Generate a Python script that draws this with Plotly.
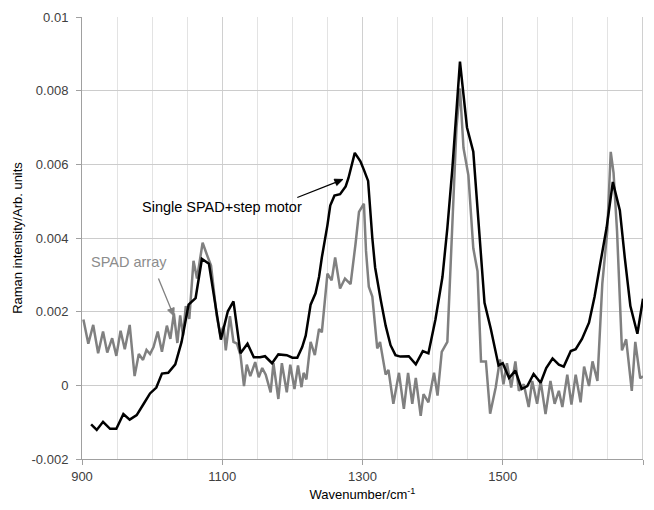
import math
import plotly.graph_objects as go

# SPAD array (gray) spectrum
gray_x = [902, 909, 916, 923, 930, 936, 943, 949, 955, 961, 968, 975, 981, 987, 992, 997,
          1002, 1008, 1014, 1021, 1026, 1031, 1036, 1040, 1044, 1048, 1053, 1059, 1064, 1072,
          1079, 1084, 1092, 1097, 1102, 1105, 1111, 1116, 1121, 1126, 1131, 1135, 1140, 1147,
          1152, 1157, 1162, 1169, 1173, 1180, 1185, 1192, 1197, 1203, 1208, 1213, 1216, 1220,
          1226, 1232, 1238, 1242, 1250, 1256, 1261, 1268, 1275, 1283, 1290, 1295, 1302, 1305,
          1309, 1314, 1321, 1325, 1333, 1337, 1344, 1352, 1359, 1365, 1371, 1376, 1383, 1387,
          1394, 1402, 1407, 1413, 1421, 1428, 1434, 1439, 1444, 1451, 1458, 1464, 1469, 1476,
          1482, 1490, 1496, 1501, 1506, 1512, 1518, 1523, 1530, 1537, 1542, 1549, 1554, 1561,
          1568, 1574, 1580, 1585, 1592, 1598, 1604, 1611, 1616, 1623, 1628, 1635, 1642, 1649,
          1654, 1658, 1663, 1670, 1676, 1684, 1689, 1696, 1700]
gray_y = [0.00179, 0.00113, 0.00164, 0.00087, 0.00146, 0.00089, 0.00128, 0.00080, 0.00148,
          0.00098, 0.00164, 0.00025, 0.00085, 0.00069, 0.00096, 0.00085, 0.00104, 0.00146,
          0.00091, 0.00162, 0.00126, 0.00195, 0.00115, 0.00190, 0.00135, 0.00215, 0.00180,
          0.00338, 0.00290, 0.00387, 0.00350, 0.00325, 0.00190, 0.00140, 0.00160, 0.00095,
          0.00188, 0.00118, 0.00113, 0.00082, -0.00002, 0.00056, 0.00025, 0.00063, 0.00022,
          0.00047, 0.00029, -0.00019, 0.00060, -0.00037, 0.00060, -0.00019, 0.00056, -0.00010,
          0.00054, -0.00005, 0.00034, 0.00016, 0.00118, 0.00082, 0.00153, 0.00144, 0.00303,
          0.00285, 0.00347, 0.00263, 0.00290, 0.00275, 0.00383, 0.00471, 0.00493, 0.00365,
          0.00268, 0.00241, 0.00100, 0.00118, 0.00029, 0.00042, -0.00050, 0.00034, -0.00064,
          0.00034, -0.00050, 0.00020, -0.00083, -0.00024, -0.00046, 0.00034, -0.00028, 0.00091,
          0.00118, 0.00435, 0.00700, 0.00806, 0.00645, 0.00570, 0.00372, 0.00310, 0.00065,
          0.00065, -0.00077, -0.00005, 0.00070, 0.00003, 0.00060, -0.00006, 0.00065, -0.00015,
          0.00003, -0.00059, 0.00012, -0.00050, 0.00012, -0.00078, 0.00012, -0.00050, -0.00015,
          -0.00059, 0.00029, -0.00052, 0.00029, -0.00046, 0.00051, -0.00002, 0.00065, 0.00012,
          0.00277, 0.00418, 0.00634, 0.00577, 0.00418, 0.00095, 0.00125, -0.00015, 0.00118,
          0.00019, 0.00025]

# Single SPAD + step motor (black) spectrum
black_x = [913, 921, 930, 940, 949, 959, 968, 978, 988, 997, 1006, 1014, 1023, 1033, 1042,
           1052, 1062, 1071, 1081, 1090, 1098, 1108, 1116, 1126, 1136, 1145, 1154, 1161, 1171,
           1180, 1192, 1200, 1207, 1214, 1219, 1226, 1233, 1238, 1242, 1250, 1254, 1260, 1268,
           1276, 1280, 1289, 1297, 1302, 1308, 1314, 1318, 1326, 1333, 1340, 1347, 1354, 1366,
           1376, 1386, 1394, 1404, 1414, 1421, 1428, 1434, 1439, 1444, 1449, 1458, 1466, 1474,
           1483, 1490, 1494, 1500, 1509, 1518, 1527, 1535, 1544, 1554, 1562, 1571, 1580, 1587,
           1597, 1604, 1613, 1623, 1631, 1639, 1648, 1657, 1667, 1674, 1682, 1692, 1700]
black_y = [-0.00106, -0.00121, -0.00099, -0.00118, -0.00118, -0.00078, -0.00093, -0.00081,
           -0.00050, -0.00022, -0.00006, 0.00032, 0.00034, 0.00057, 0.00118, 0.00219, 0.00237,
           0.00343, 0.00330, 0.00215, 0.00124, 0.00201, 0.00228, 0.00087, 0.00113, 0.00076,
           0.00076, 0.00079, 0.00060, 0.00084, 0.00082, 0.00075, 0.00075, 0.00104, 0.00135,
           0.00219, 0.00250, 0.00294, 0.00347, 0.00435, 0.00488, 0.00515, 0.00519, 0.00540,
           0.00563, 0.00631, 0.00608, 0.00585, 0.00555, 0.00400, 0.00320, 0.00232, 0.00162,
           0.00109, 0.00082, 0.00078, 0.00079, 0.00057, 0.00093, 0.00087, 0.00179, 0.00294,
           0.00427, 0.00585, 0.00744, 0.00879, 0.00789, 0.00700, 0.00634, 0.00436, 0.00224,
           0.00153, 0.00095, 0.00054, 0.00060, 0.00020, 0.00040, -0.00010, -0.00002, 0.00031,
           0.00007, 0.00047, 0.00073, 0.00056, 0.00051, 0.00093, 0.00098, 0.00126, 0.00170,
           0.00241, 0.00330, 0.00427, 0.00552, 0.00475, 0.00347, 0.00215, 0.00140, 0.00235]

y_ticks = [-0.002, 0, 0.002, 0.004, 0.006, 0.008, 0.01]
y_tick_text = ["-0.002", "0", "0.002", "0.004", "0.006", "0.008", "0.01"]
x_ticks = [900, 1100, 1300, 1500, 1700]
x_tick_text = ["900", "1100", "1300", "1500", "1700"]

FONT = "Liberation Sans, Arial, sans-serif"
W, H = 654, 510
ML, MR, MT, MB = 82, 11, 10, 47
X0, X1 = 900, 1700
Y0, Y1 = -0.002, 0.01
sx = (W - ML - MR) / (X1 - X0)   # px per x unit
sy = (H - MT - MB) / (Y1 - Y0)   # px per y unit

fig = go.Figure()
fig.add_trace(go.Scatter(x=gray_x, y=gray_y, mode="lines",
                         line=dict(color="#808080", width=2.5), name="SPAD array"))
fig.add_trace(go.Scatter(x=black_x, y=black_y, mode="lines",
                         line=dict(color="#000000", width=2.5), name="Single SPAD+step motor"))


def arrow(tail, head, color):
    """Arrow drawn as a line shape plus a filled triangular head."""
    (tx, ty), (hx, hy) = tail, head
    dxp = (hx - tx) * sx
    dyp = (hy - ty) * sy
    L = math.hypot(dxp, dyp)
    ux, uy = dxp / L, dyp / L
    hl, hw = 8.0, 3.5
    bx, by = -ux * hl, -uy * hl
    p1 = (hx + (bx - uy * hw) / sx, hy + (by + ux * hw) / sy)
    p2 = (hx + (bx + uy * hw) / sx, hy + (by - ux * hw) / sy)
    lx, ly = hx + bx / sx * 0.8, hy + by / sy * 0.8
    fig.add_shape(type="line", xref="x", yref="y", x0=tx, y0=ty, x1=lx, y1=ly,
                  line=dict(color=color, width=1.3))
    fig.add_shape(type="path", xref="x", yref="y",
                  path=f"M {hx},{hy} L {p1[0]},{p1[1]} L {p2[0]},{p2[1]} Z",
                  fillcolor=color, line=dict(color=color, width=1))


arrow((1207, 0.0051), (1272, 0.00559), "#000000")
arrow((1009, 0.0029), (1031, 0.00188), "#808080")

fig.add_annotation(x=1100, y=0.00484, text="Single SPAD+step motor", showarrow=False,
                   font=dict(family=FONT, size=14.5, color="#000000"))
fig.add_annotation(x=967, y=0.00336, text="SPAD array", showarrow=False,
                   font=dict(family=FONT, size=14.5, color="#8c8c8c"))

fig.update_layout(
    width=W, height=H,
    margin=dict(l=ML, r=MR, t=MT, b=MB),
    paper_bgcolor="white", plot_bgcolor="white",
    showlegend=False,
    font=dict(family=FONT, size=13, color="#404040"),
)
fig.update_xaxes(
    range=[X0, X1], tickvals=x_ticks, ticktext=x_tick_text,
    showgrid=True, gridcolor="#d0d0d0", gridwidth=1,
    minor=dict(dtick=50, tick0=900, showgrid=True, gridcolor="#e3e3e3", gridwidth=1),
    showline=True, linecolor="#a0a0a0", linewidth=1,
    ticks="outside", ticklen=5, tickcolor="#a0a0a0",
    zeroline=False,
    title=dict(text="Wavenumber/cm<sup>-1</sup>", font=dict(family=FONT, size=13, color="#000000"),
               standoff=7),
    tickfont=dict(family=FONT, size=13, color="#404040"),
)
fig.update_yaxes(
    range=[Y0, Y1], tickvals=y_ticks, ticktext=y_tick_text,
    showgrid=True, gridcolor="#cccccc", gridwidth=1,
    showline=True, linecolor="#a0a0a0", linewidth=1,
    ticks="outside", ticklen=5, tickcolor="#a0a0a0",
    ticklabelstandoff=5,
    zeroline=False,
    title=dict(text="Raman intensity/Arb. units", font=dict(family=FONT, size=13, color="#000000"),
               standoff=5),
    tickfont=dict(family=FONT, size=13, color="#404040"),
)
fig.add_shape(type="line", xref="x", yref="y", x0=1700, x1=1700, y0=Y0, y1=Y1,
              line=dict(color="#a0a0a0", width=1), layer="below")

fig.write_html("out.html")
